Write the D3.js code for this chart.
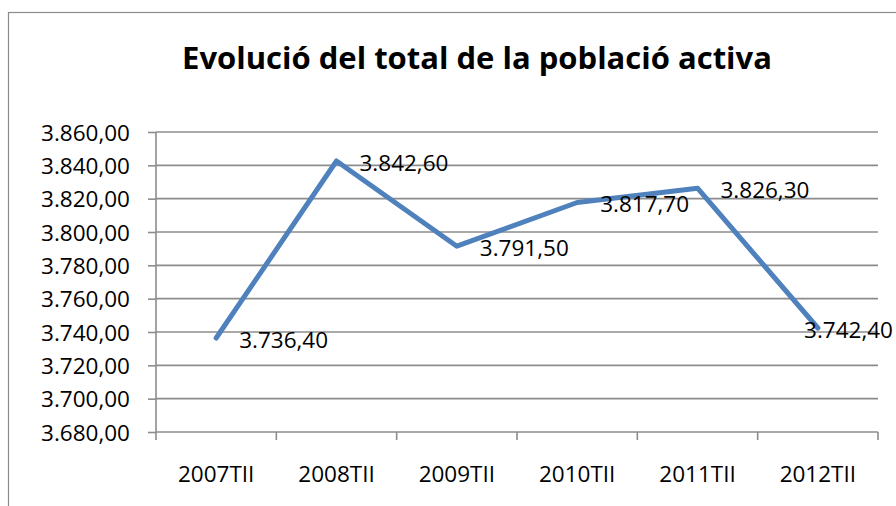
<!DOCTYPE html>
<html>
<head>
<meta charset="utf-8">
<script src="https://cdn.jsdelivr.net/npm/d3@7"></script>
<style>
  html, body { margin: 0; padding: 0; background: #fff; }
  svg { display: block; }
</style>
</head>
<body>
<svg id="chart" width="896" height="506"></svg>
<script>
const categories = ["2007TII", "2008TII", "2009TII", "2010TII", "2011TII", "2012TII"];
const values = [3736.4, 3842.6, 3791.5, 3817.7, 3826.3, 3742.4];
const yTicks = [3680, 3700, 3720, 3740, 3760, 3780, 3800, 3820, 3840, 3860];
const title = "Evolució del total de la població activa";

const svg = d3.select("#chart");
const FONT = "'Open Sans', 'Liberation Sans', sans-serif";
const fs = 22.5;
const capH = fs * 0.714;

// chart border (extends past the canvas on right/bottom)
svg.append("rect")
  .attr("x", 8.5).attr("y", 12.5)
  .attr("width", 1000).attr("height", 1000)
  .attr("fill", "none").attr("stroke", "#8c8c8c").attr("stroke-width", 1.2);

const plot = { left: 156, right: 878, top: 132, bottom: 432 };

const x = d3.scaleBand().domain(categories).range([plot.left, plot.right]).padding(0);
const y = d3.scaleLinear().domain([3680, 3860]).range([plot.bottom, plot.top]);

const fmt = d3.formatLocale({ decimal: ",", thousands: ".", grouping: [3], currency: ["", "€"] }).format(",.2f");

// gridlines
svg.append("g").selectAll("line").data(yTicks.slice(1)).join("line")
  .attr("x1", plot.left).attr("x2", plot.right)
  .attr("y1", d => y(d)).attr("y2", d => y(d))
  .attr("stroke", "#8c8c8c").attr("stroke-width", 1.6);

// y axis
const yAxis = d3.axisLeft(y).tickValues(yTicks).tickSize(8).tickPadding(18).tickFormat(fmt);
const gy = svg.append("g").attr("transform", `translate(${plot.left},0)`).call(yAxis);
gy.select(".domain").attr("stroke", "#8c8c8c").attr("stroke-width", 1.6).attr("d", `M0,${plot.top}V${plot.bottom + 1}`);
gy.selectAll(".tick line").attr("stroke", "#8c8c8c").attr("stroke-width", 1.6);
gy.selectAll(".tick text")
  .attr("font-family", FONT).attr("font-size", fs).attr("fill", "#000")
  .attr("dy", null).attr("y", capH / 2);

// x axis
const xAxis = d3.axisBottom(x).tickSize(0).tickPadding(0);
const gx = svg.append("g").attr("transform", `translate(0,${plot.bottom})`).call(xAxis);
gx.select(".domain").attr("stroke", "#8c8c8c").attr("stroke-width", 1.6).attr("d", `M${plot.left},0H${plot.right}`);
gx.selectAll(".tick text")
  .attr("font-family", FONT).attr("font-size", fs).attr("fill", "#000")
  .attr("dy", null).attr("y", 50);
// boundary tick marks between categories
const bounds = categories.map(c => x(c)).concat([x(categories[categories.length - 1]) + x.bandwidth()]);
svg.append("g").selectAll("line").data(bounds).join("line")
  .attr("x1", d => d).attr("x2", d => d)
  .attr("y1", plot.bottom).attr("y2", plot.bottom + 8)
  .attr("stroke", "#8c8c8c").attr("stroke-width", 1.6);

// line
const pts = categories.map((c, i) => ({ c, v: values[i] }));
const line = d3.line().x(d => x(d.c) + x.bandwidth() / 2).y(d => y(d.v));
svg.append("path").datum(pts)
  .attr("d", line)
  .attr("fill", "none").attr("stroke", "#4f81bd").attr("stroke-width", 5)
  .attr("stroke-linejoin", "round").attr("stroke-linecap", "round");

// data labels
const labels = svg.append("g").selectAll("text").data(pts).join("text")
  .attr("font-family", FONT).attr("font-size", fs).attr("fill", "#000")
  .attr("y", d => y(d.v) + capH / 2 + 1.5)
  .text(d => fmt(d.v));
labels.attr("x", function(d) {
  const px = x(d.c) + x.bandwidth() / 2 + 23;
  const w = this.getComputedTextLength();
  return Math.min(px, 893 - w);
});

// title
svg.append("text")
  .attr("x", 477).attr("y", 69)
  .attr("text-anchor", "middle")
  .attr("font-family", FONT).attr("font-weight", "bold").attr("font-size", 31)
  .attr("fill", "#000")
  .text(title);
</script>
</body>
</html>
